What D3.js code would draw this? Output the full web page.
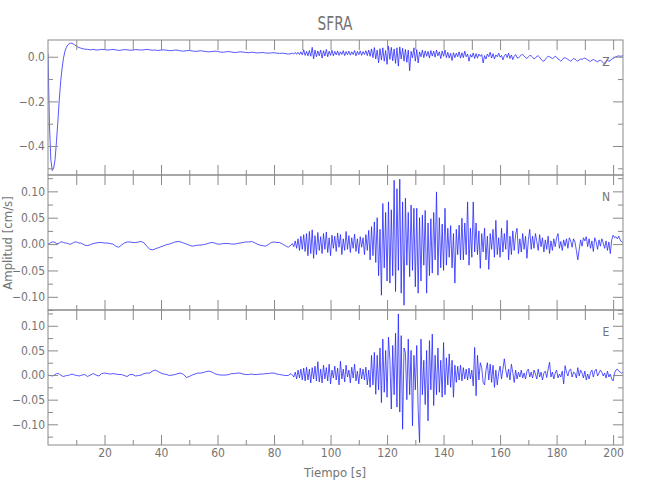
<!DOCTYPE html>
<html><head><meta charset="utf-8">
<script src="https://cdn.jsdelivr.net/npm/d3@7"></script>
<style>
body{margin:0;background:#fff}
text{font-family:"DejaVu Sans",sans-serif;font-stretch:condensed;fill:#747474}
</style>
</head><body>
<svg id="chart" width="650" height="500"></svg>
<script>
// Sampling of the traces: [start, end, step] in seconds
const timeSegments = [[0, 12, 0.5], [13, 86, 1], [86.5, 203.5, 0.5]];

// Vertical component Z (cm/s)
const zValues = [
  0.015,-0.30,-0.46,-0.51,-0.50,-0.46,-0.38,-0.29,-0.19,-0.11,-0.05,-0.005,0.025,0.042,0.053,0.058,0.061,0.060,0.057,0.053,0.048,0.044,0.041,0.039,0.037,
  0.034,0.033,0.031,0.033,0.030,0.031,0.033,0.032,0.030,0.031,
  0.033,0.031,0.028,0.030,0.032,0.031,0.029,0.030,0.032,0.031,
  0.030,0.031,0.033,0.031,0.029,0.030,0.028,0.030,0.031,0.029,
  0.027,0.028,0.030,0.029,0.026,0.025,0.027,0.028,0.026,0.024,
  0.025,0.027,0.025,0.023,0.022,0.023,0.025,0.024,0.021,0.020,
  0.022,0.023,0.021,0.019,0.020,0.022,0.021,0.019,0.018,0.020,
  0.019,0.017,0.018,0.019,0.017,0.016,0.017,0.018,0.016,0.015,
  0.016,0.014,0.012,0.014,
  0.016,0.012,0.019,0.011,0.020,0.010,0.022,0.008,0.031,0.006,
  0.024,0.004,0.028,0.002,0.042,-0.010,0.030,0.000,0.026,0.004,
  0.030,-0.006,0.027,0.003,0.033,0.000,0.025,0.006,0.029,0.004,
  0.024,0.008,0.026,0.006,0.022,0.010,0.027,0.005,0.023,0.009,
  0.025,0.007,0.022,0.010,0.028,0.004,0.024,0.009,0.026,0.006,
  0.023,0.010,0.027,0.005,0.030,0.002,0.035,-0.004,0.041,-0.010,
  0.030,-0.027,0.036,-0.015,0.040,-0.020,0.028,-0.034,0.047,-0.012,
  0.042,-0.018,0.035,-0.030,0.040,-0.042,0.044,-0.010,0.038,-0.020,
  0.033,-0.025,0.030,-0.063,0.024,-0.005,0.040,-0.020,0.032,-0.028,
  0.022,0.000,0.030,-0.004,0.026,0.002,0.024,-0.006,0.028,0.003,
  0.025,-0.002,0.030,0.004,0.022,-0.008,0.026,0.002,0.030,-0.004,
  0.020,-0.006,0.015,-0.017,0.018,-0.004,0.016,0.000,0.022,-0.006,
  0.018,-0.004,0.025,0.000,0.012,-0.020,0.010,-0.002,0.017,-0.008,
  0.014,-0.006,0.012,0.002,0.010,-0.028,0.005,-0.010,0.012,0.000,
  0.020,-0.006,0.014,-0.010,0.008,0.000,0.016,-0.002,0.006,-0.014,
  0.004,0.012,-0.004,0.016,-0.008,0.008,-0.013,0.002,0.010,-0.004,
  -0.006,0.002,0.008,0.010,0.004,-0.004,-0.008,0.000,0.006,0.004,
  -0.002,-0.010,-0.006,0.002,0.004,-0.002,-0.012,-0.018,-0.020,-0.012,
  -0.004,0.002,0.000,-0.004,-0.008,-0.004,0.002,-0.002,-0.010,-0.014,
  -0.020,-0.014,-0.006,-0.004,-0.008,-0.012,-0.016,-0.020,-0.014,-0.008,
  -0.010,-0.016,-0.020,-0.014,-0.010,-0.012,-0.008,-0.006,-0.010,-0.014,
  -0.018,-0.021,-0.016,-0.012,-0.016,-0.020,-0.022,-0.018,-0.016,-0.020,
  -0.026,-0.033,-0.024,-0.016,-0.020,-0.018,-0.010,-0.008,-0.004,0.000,
  0.002,0.004,0.002,0.003,0.004
];

// North component N (cm/s)
const nValues = [
  0.000,0.001,0.003,0.004,0.004,0.003,0.001,0.001,0.002,0.004,0.004,0.003,0.002,0.002,0.001,0.000,0.000,0.001,0.003,0.004,0.004,0.003,0.002,0.002,0.001,
  -0.002,-0.003,-0.001,0.001,0.002,0.003,0.003,0.002,0.002,0.001,
  0.000,-0.004,-0.006,-0.002,0.002,0.004,0.004,0.003,0.003,0.004,
  0.005,0.002,-0.004,-0.010,-0.011,-0.009,-0.007,-0.005,-0.003,-0.001,
  0.000,0.002,0.004,0.005,0.004,0.002,0.000,-0.002,-0.004,-0.003,
  -0.002,-0.002,-0.001,0.000,0.002,0.003,0.002,0.000,0.000,0.001,
  0.001,0.001,0.000,0.000,0.001,0.002,0.003,0.004,0.004,0.005,
  0.003,0.000,-0.002,-0.003,-0.004,-0.001,0.003,0.004,0.003,0.003,
  0.000,-0.003,-0.006,-0.002,
  0.001,-0.005,0.006,-0.008,0.010,-0.012,0.015,-0.010,0.018,-0.014,
  0.020,-0.022,0.024,-0.018,0.027,-0.027,0.016,-0.020,0.022,-0.012,
  0.014,-0.018,0.020,-0.010,0.023,-0.016,0.012,-0.022,0.017,-0.008,
  0.015,-0.014,0.021,-0.006,0.018,-0.020,0.010,-0.012,0.024,-0.010,
  0.016,-0.016,0.012,-0.008,0.019,-0.014,0.010,-0.018,0.014,-0.006,
  0.012,-0.020,0.018,-0.012,0.026,-0.030,0.033,-0.022,0.042,-0.035,
  0.050,-0.060,0.028,-0.097,0.077,-0.045,0.060,-0.070,0.080,-0.074,
  0.065,-0.060,0.121,-0.090,0.105,-0.050,0.123,-0.093,0.080,-0.116,
  0.087,-0.040,0.060,-0.062,0.074,-0.050,0.068,-0.081,0.068,-0.093,
  0.050,-0.070,0.055,-0.040,0.064,-0.093,0.040,-0.060,0.048,-0.055,
  0.060,-0.030,0.099,-0.059,0.050,-0.045,0.038,-0.050,0.068,-0.040,
  0.030,-0.025,0.035,-0.045,0.020,-0.074,0.028,-0.020,0.036,-0.030,
  0.049,-0.030,0.040,-0.020,0.080,-0.040,0.030,-0.025,0.080,-0.015,
  0.040,-0.020,0.025,-0.046,0.020,-0.015,0.030,-0.030,0.015,-0.048,
  0.020,-0.010,0.028,-0.025,0.045,-0.020,0.012,-0.025,0.030,-0.015,
  0.020,-0.010,0.045,-0.030,0.015,-0.020,0.025,-0.012,0.018,0.030,
  -0.018,0.010,-0.015,0.020,-0.010,0.015,-0.027,0.008,0.028,-0.010,
  0.015,-0.008,0.020,0.005,-0.012,0.018,-0.005,0.012,-0.015,0.008,
  -0.010,0.015,-0.018,0.006,-0.012,0.010,-0.005,0.012,0.020,-0.008,
  0.005,-0.012,0.008,-0.004,0.010,-0.008,0.012,0.006,-0.006,0.010,
  0.004,-0.012,-0.030,-0.010,0.008,-0.004,0.012,0.006,0.014,-0.005,
  0.010,-0.008,0.006,-0.014,0.012,0.004,-0.010,0.008,-0.004,0.010,
  0.002,-0.008,0.006,-0.012,0.004,-0.018,0.008,0.017,0.012,0.014,
  0.010,0.015,0.008,0.004,0.002
];

// East component E (cm/s)
const eValues = [
  0.000,-0.001,-0.001,-0.002,-0.001,0.001,0.003,0.003,0.002,0.000,-0.002,-0.003,-0.002,-0.001,-0.001,0.000,0.001,0.002,0.001,0.000,-0.001,-0.001,-0.002,-0.001,0.000,
  0.001,-0.003,0.000,0.003,0.000,-0.002,0.003,0.004,0.003,0.002,
  0.003,0.002,0.001,0.001,-0.001,-0.003,0.001,0.001,-0.002,-0.001,
  0.000,0.003,0.004,0.004,0.008,0.010,0.007,0.004,0.002,0.001,
  -0.001,0.000,0.001,0.003,0.004,0.001,-0.005,-0.003,0.000,0.002,
  0.004,0.004,0.005,0.007,0.008,0.006,0.003,0.001,0.000,0.000,
  0.000,0.001,0.003,0.003,0.004,0.004,0.002,0.001,0.001,0.002,
  0.001,0.001,0.002,0.002,0.003,0.003,0.004,0.004,0.002,0.001,
  0.000,-0.001,-0.001,0.003,
  0.000,-0.004,0.006,-0.008,0.010,-0.006,0.012,-0.010,0.014,-0.012,
  0.016,-0.010,0.012,-0.016,0.015,-0.008,0.018,-0.012,0.027,-0.014,
  0.012,-0.016,0.020,-0.008,0.015,-0.012,0.022,-0.018,0.010,-0.006,
  0.018,-0.010,0.014,-0.020,0.028,-0.008,0.012,-0.014,0.020,-0.004,
  0.010,-0.016,0.016,-0.006,0.022,-0.012,0.008,-0.018,0.014,-0.008,
  0.012,-0.010,0.016,-0.020,0.010,-0.025,0.040,-0.020,0.046,-0.039,
  0.040,-0.030,0.055,-0.056,0.073,-0.035,0.050,-0.045,0.077,0.030,
  -0.069,0.060,-0.040,0.085,-0.065,0.124,-0.075,0.080,-0.110,0.055,
  0.045,-0.050,0.073,-0.040,0.050,-0.103,0.040,-0.030,0.060,-0.070,
  -0.137,0.073,-0.040,0.030,-0.060,0.050,-0.093,0.070,-0.030,0.083,
  -0.062,0.040,-0.040,0.055,-0.035,0.030,-0.045,0.066,-0.040,0.035,
  -0.020,0.043,-0.025,0.030,-0.045,0.020,-0.015,0.018,-0.010,0.020,
  -0.012,0.015,-0.008,0.012,-0.010,0.014,-0.008,0.010,-0.022,0.056,
  -0.042,0.040,-0.010,0.025,0.015,-0.015,-0.020,0.010,0.025,-0.010,
  0.022,-0.015,0.020,-0.025,0.010,-0.020,0.005,0.018,-0.008,0.012,
  0.033,0.010,-0.005,0.012,-0.010,0.022,0.005,-0.015,0.010,-0.008,
  0.006,-0.004,0.010,-0.006,0.004,-0.008,0.008,0.012,-0.004,0.006,
  -0.006,0.010,0.002,-0.008,0.012,-0.004,0.006,-0.010,0.004,0.008,
  -0.005,0.012,0.026,-0.004,0.006,-0.008,0.004,0.010,-0.006,0.002,
  -0.004,0.008,-0.018,0.019,0.006,-0.002,0.010,0.012,-0.004,0.006,
  0.004,-0.006,0.015,-0.002,0.010,0.004,-0.006,0.008,-0.010,0.002,
  -0.008,0.005,0.010,-0.004,0.008,0.012,-0.002,0.004,0.010,0.006,
  -0.002,0.004,-0.006,0.008,-0.004,0.002,-0.008,-0.012,0.004,0.010,
  0.012,0.008,0.006,0.004,0.005
];

const channelLabels = ["Z", "N", "E"];
const yDomains = [[-0.53, 0.075], [-0.125, 0.131], [-0.142, 0.132]];
const yMajorTicks = [[0.0, -0.2, -0.4], [-0.10, -0.05, 0.00, 0.05, 0.10], [-0.10, -0.05, 0.00, 0.05, 0.10]];
const yMinorTicks = [[-0.1, -0.3, -0.5], [-0.125, -0.075, -0.025, 0.025, 0.075, 0.125], [-0.125, -0.075, -0.025, 0.025, 0.075, 0.125]];
const yTickDigits = [1, 2, 2];
const xMajorTicks = [20, 40, 60, 80, 100, 120, 140, 160, 180, 200];
const xMinorTicks = [10, 30, 50, 70, 90, 110, 130, 150, 170, 190];
const xDomain = [0, 203.5];
const title = "SFRA";
const xTitle = "Tiempo  [s]";
const yTitle = "Amplitud  [cm/s]";

// ---- build the time axis from the sampling description
const times = [];
timeSegments.forEach(([a, b, s]) => {
  const n = Math.round((b - a) / s);
  for (let i = 0; i <= n; i++) times.push(a + i * s);
});

const series = [zValues, nValues, eValues];

const svg = d3.select("#chart");
const plotLeft = 48, plotRight = 623, plotTop = 40, panelH = 135;
const axisColor = "#8a8a8a";
const textColor = "#747474";

const x = d3.scaleLinear().domain(xDomain).range([plotLeft, plotRight]);

svg.append("text").attr("x", 335).attr("y", 30).attr("text-anchor", "middle")
  .attr("textLength", 35).attr("lengthAdjust", "spacingAndGlyphs")
  .style("font-size", "19px").text(title);

series.forEach((vals, p) => {
  const y0 = plotTop + p * panelH, y1 = y0 + panelH;
  const y = d3.scaleLinear().domain(yDomains[p]).range([y1, y0]);
  const g = svg.append("g");

  const clipId = "clip" + p;
  svg.append("clipPath").attr("id", clipId).append("rect")
    .attr("x", plotLeft).attr("y", y0).attr("width", plotRight - plotLeft).attr("height", panelH);

  const n = Math.min(times.length, vals.length);
  const pts = d3.range(n).map(i => [times[i], vals[i]]);
  const line = d3.line().x(d => x(d[0])).y(d => y(d[1]));
  g.append("path").attr("d", line(pts)).attr("clip-path", `url(#${clipId})`)
    .attr("fill", "none").attr("stroke", "#1f1fff").attr("stroke-width", 0.75)
    .attr("stroke-linejoin", "round");

  const fmt = v => (v < 0 ? "\u2212" : "") + Math.abs(v).toFixed(yTickDigits[p]);

  const styleAxis = sel => {
    sel.select(".domain").remove();
    sel.selectAll("line").attr("stroke", axisColor);
    sel.selectAll("text").style("font-size", "12px").attr("fill", textColor).attr("font-family", null);
  };

  svg.append("g").attr("transform", `translate(${plotLeft},0)`)
    .call(d3.axisLeft(y).tickValues(yMajorTicks[p]).tickSize(-10).tickPadding(3).tickFormat(fmt)).call(styleAxis);
  svg.append("g").attr("transform", `translate(${plotLeft},0)`)
    .call(d3.axisLeft(y).tickValues(yMinorTicks[p]).tickSize(-5).tickFormat("")).call(styleAxis);
  svg.append("g").attr("transform", `translate(${plotRight},0)`)
    .call(d3.axisRight(y).tickValues(yMajorTicks[p]).tickSize(-10).tickFormat("")).call(styleAxis);
  svg.append("g").attr("transform", `translate(${plotRight},0)`)
    .call(d3.axisRight(y).tickValues(yMinorTicks[p]).tickSize(-5).tickFormat("")).call(styleAxis);
  svg.append("g").attr("transform", `translate(0,${y0})`)
    .call(d3.axisTop(x).tickValues(xMajorTicks.concat(xMinorTicks)).tickSize(-10).tickFormat("")).call(styleAxis);
  svg.append("g").attr("transform", `translate(0,${y1})`)
    .call(d3.axisBottom(x).tickValues(xMajorTicks).tickSize(-10).tickPadding(3)
      .tickFormat(p === 2 ? d3.format("d") : "")).call(styleAxis);
  svg.append("g").attr("transform", `translate(0,${y1})`)
    .call(d3.axisBottom(x).tickValues(xMinorTicks).tickSize(-5).tickFormat("")).call(styleAxis);

  svg.append("rect").attr("x", plotLeft).attr("y", y0).attr("width", plotRight - plotLeft).attr("height", panelH)
    .attr("fill", "none").attr("stroke", axisColor).attr("stroke-width", 1);

  svg.append("text").attr("x", 606).attr("y", y0 + 26).attr("text-anchor", "middle")
    .style("font-size", "12px").text(channelLabels[p]);
});

svg.append("text").attr("x", 335).attr("y", 477).attr("text-anchor", "middle")
  .style("font-size", "13px").text(xTitle);
svg.append("text").attr("transform", "translate(12,243) rotate(-90)").attr("text-anchor", "middle")
  .style("font-size", "13px").text(yTitle);
</script>
</body></html>
